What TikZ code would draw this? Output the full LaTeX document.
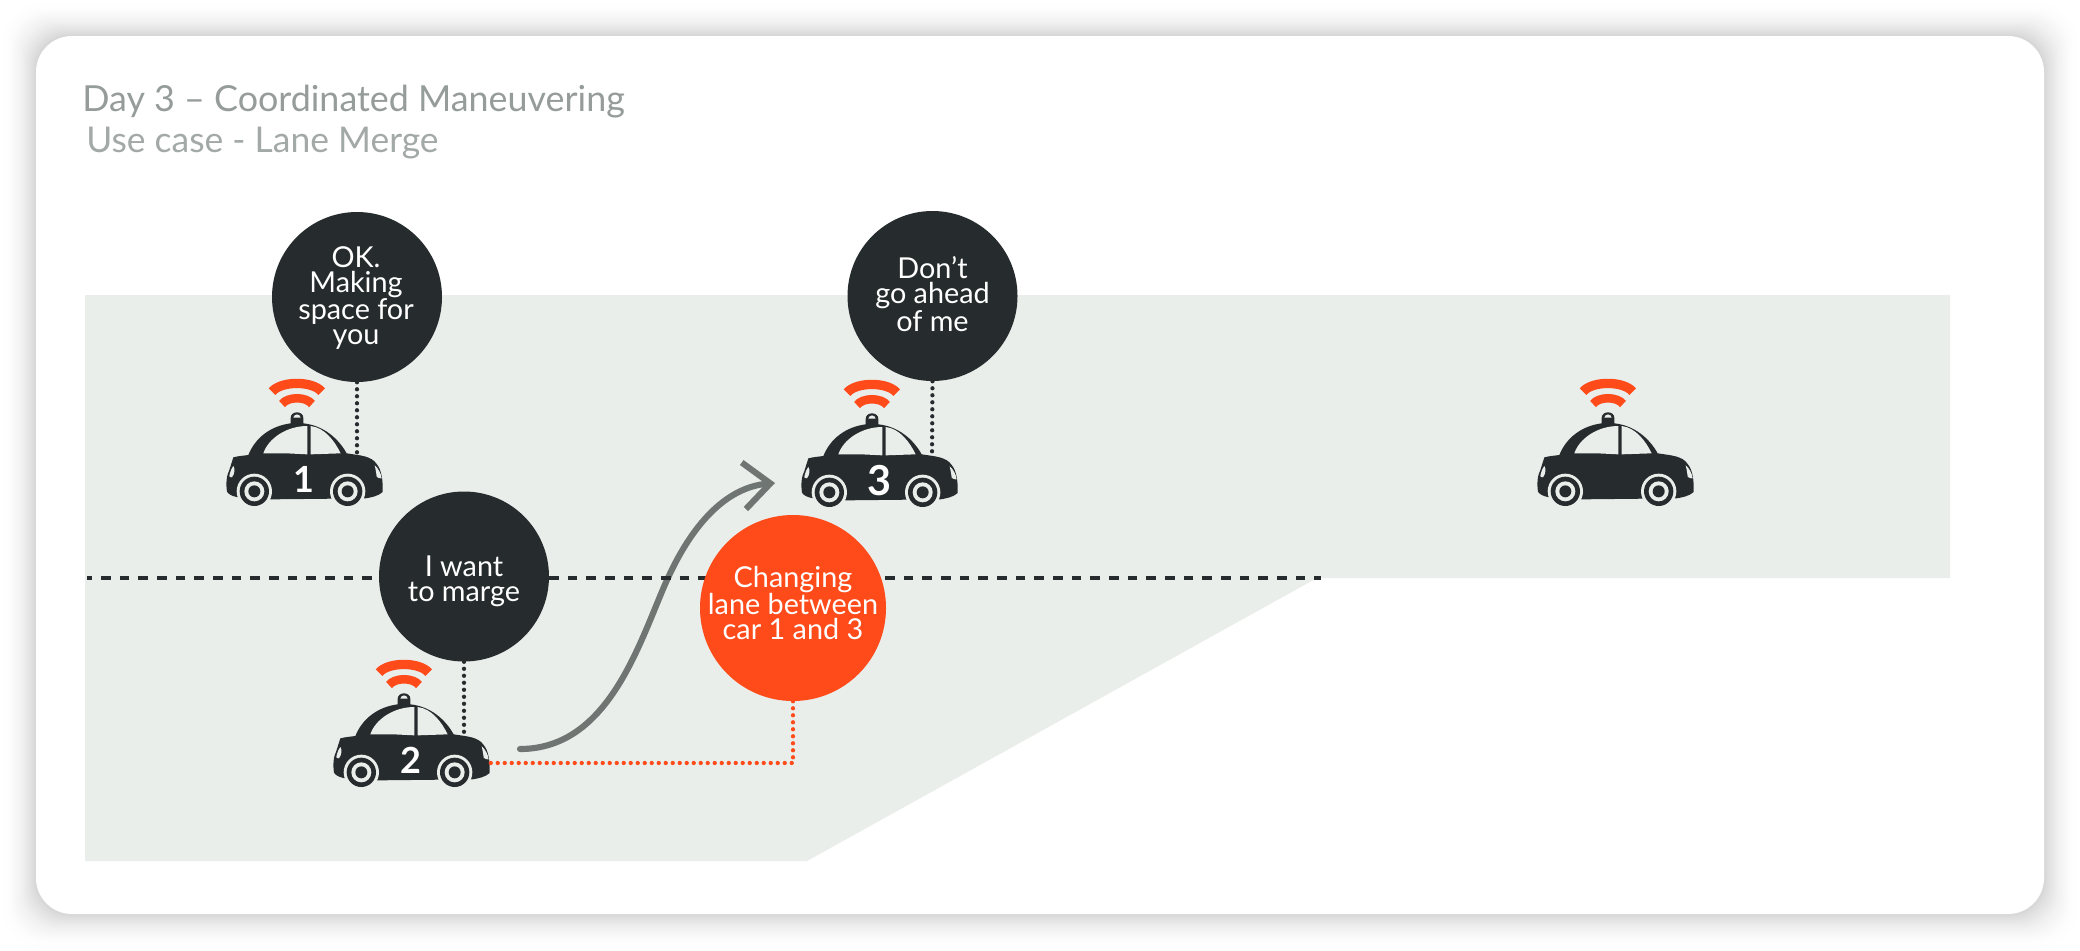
\documentclass[tikz,border=0pt]{standalone}
\usepackage{fontspec}
\setmainfont{Lato}
\usetikzlibrary{arrows.meta}
\definecolor{road}{HTML}{EAEEEB}
\definecolor{ink}{HTML}{262C2E}
\definecolor{flame}{HTML}{FF4A1A}
\definecolor{pathgrey}{HTML}{6F7572}
\definecolor{titlegrey}{HTML}{959C9A}
\definecolor{subgrey}{HTML}{A3A9A7}
\tikzset{
  x=0.75pt,y=-0.75pt,
  bubble/.style={circle,draw=none,fill=ink,minimum size=127.5pt,inner sep=0pt},
  hotbubble/.style={bubble,fill=flame,minimum size=139.5pt},
  bubbletext/.style={text=white,align=center,inner sep=0pt,font=\fontsize{21.6}{18.75}\selectfont},
  dots/.style={line width=3.2pt,line cap=round,dash pattern=on 0pt off 5.25pt},
  lanedash/.style={draw=ink,line width=3pt,dash pattern=on 7.1pt off 6.9pt,dash phase=3.4pt},
  carbody/.pic={
    \begin{scope}[scale=1/3]
      \fill[ink] (100,292) .. controls (115,288) and (130,287) .. (145,285)
        .. controls (165,235) and (210,198) .. (272,190) -- (272,174)
        .. controls (272,163) and (281,157) .. (291,157)
        .. controls (301,157) and (310,163) .. (310,174) -- (310,190)
        .. controls (370,196) and (415,235) .. (440,280)
        .. controls (480,286) and (515,288) .. (530,312)
        .. controls (545,330) and (549,360) .. (548,396)
        .. controls (535,408) and (515,412) .. (497,415) -- (215,418) -- (110,411)
        .. controls (95,408) and (85,402) .. (81,395)
        .. controls (77,370) and (80,345) .. (88,330) -- cycle;
      \fill[road] (190,280) .. controls (205,235) and (260,198) .. (322,198) -- (322,283) -- (260,280) -- cycle;
      \fill[road] (332,198) .. controls (375,203) and (405,245) .. (422,280) -- (332,283) -- cycle;
      \fill[road] (280,173) .. controls (282,160) and (300,160) .. (302,173) -- cycle;
      \fill[road] (100,318) .. controls (105,325) and (105,340) .. (96,352) .. controls (90,352) and (88,350) .. (88,348) .. controls (90,335) and (95,325) .. (100,318) -- cycle;
      \fill[road] (524,316) .. controls (535,325) and (543,340) .. (545,355) .. controls (540,356) and (533,354) .. (530,350) .. controls (529,340) and (527,328) .. (524,316) -- cycle;
      \foreach \wx in {163,443}{
        \fill[road] (\wx,394) circle (53);
        \fill[ink] (\wx,394) circle (44);
        \fill[road] (\wx,394) circle (30);
        \fill[ink] (\wx,394) circle (18);
      }
      \draw[flame,line width=7pt] (216,95) .. controls (243,62) and (338,62) .. (365,95);
      \draw[flame,line width=6.4pt] (246,132) .. controls (264,109) and (318,109) .. (336,132);
      \coordinate (-hood) at (471,285);
      \coordinate (-tail) at (540,366);
      \node[inner sep=0pt,text=white,font=\fontsize{27}{27}\selectfont\bfseries] at (312,358) {\tikzpictext};
    \end{scope}
  }
}
\begin{document}
\begin{tikzpicture}
\useasboundingbox (0,0) rectangle (2080,950);
% soft shadow
\foreach \d in {34,32,...,2}{
  \pgfmathsetmacro{\pct}{17*(1-\d/36)*(1-\d/36)}
  \fill[black!\pct!white,rounded corners=27pt] ({36-\d},{36-\d}) rectangle ({2044+\d},{914+\d});
}
\fill[white,rounded corners=27pt] (36,36) rectangle (2044,914);
% road
\fill[road] (85,295) -- (1950,295) -- (1950,578) -- (1317,578) -- (807,861) -- (85,861) -- cycle;
% title
\node[anchor=base west,inner sep=0pt,text=titlegrey,font=\fontsize{26.9}{26.9}\selectfont] (title) at (82,111) {Day 3 – Coordinated Maneuvering};
\node[anchor=base west,inner sep=0pt,text=subgrey,font=\fontsize{26.6}{26.6}\selectfont] (subtitle) at (86,152) {Use case - Lane Merge};
% path of car 2
\coordinate (pathstart) at (520,749);
\coordinate (pathmid) at (667,580);
\coordinate (pathend) at (775,483);
\draw[pathgrey,line width=4.6pt,line cap=round,-{Straight Barb[length=20pt,width=35pt,line width=4.6pt]}] (pathstart) .. controls (610,749) and (640,640) .. (pathmid) .. controls (695,518) and (730,487) .. (pathend);
% lane divider
\coordinate (lanea) at (87,578);
\coordinate (laneb) at (1321,578);
\draw[lanedash] (lanea) -- (laneb);
% cars
\pic[pic text=1] (car1) at (200,360) {carbody};
\pic[pic text=2] (car2) at (307,641) {carbody};
\pic[pic text={\fontsize{31}{31}\selectfont 3}] (car3) at (775,361) {carbody};
\pic[pic text={}] (car4) at (1511,360) {carbody};
% bubbles
\node[bubble] (ok) at (357,297) {};
\node[bubble] (want) at (464,576.5) {};
\node[bubble] (dont) at (932.5,296) {};
\node[hotbubble] (change) at (793,608) {};
\node[bubbletext] (oktext) at (356,298) {OK.\\Making\\space for\\you};
\node[bubbletext] (wanttext) at (464,581) {I want\\to marge};
\node[bubbletext] (donttext) at (932.5,294) {Don’t\\go ahead\\of me};
\node[bubbletext] (changetext) at (793,603) {Changing\\lane between\\car 1 and 3};
% connectors
\draw[ink,dots] (ok.south) -- (car1-hood);
\draw[ink,dots] (want.south) -- (car2-hood);
\draw[ink,dots] (dont.south) -- (car3-hood);
\draw[flame,dots] (change.south) |- (car2-tail);
\end{tikzpicture}
\end{document}
